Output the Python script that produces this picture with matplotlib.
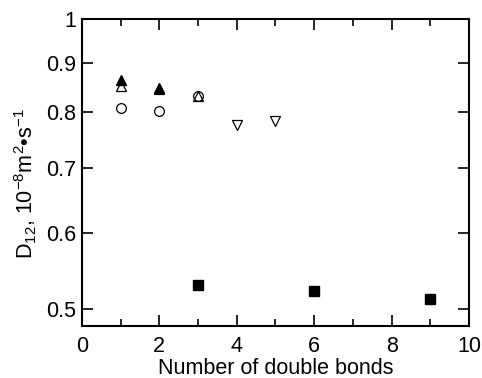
import matplotlib
matplotlib.use("Agg")
from matplotlib import pyplot as plt
from matplotlib.ticker import FixedLocator, FixedFormatter, MultipleLocator, NullLocator

plt.rcParams['font.family'] = ['Liberation Sans', 'DejaVu Sans']
plt.rcParams['mathtext.fontset'] = 'custom'
plt.rcParams['mathtext.rm'] = 'Liberation Sans'
plt.rcParams['mathtext.it'] = 'Liberation Sans'

# data
tri_filled_x = [1, 2]
tri_filled_y = [0.864, 0.848]
tri_open_x = [1, 2, 3]
tri_open_y = [0.853, 0.845, 0.832]
circ_x = [1, 2, 3]
circ_y = [0.808, 0.802, 0.831]
tri_down_x = [4, 5]
tri_down_y = [0.776, 0.784]
sq_x = [3, 6, 9]
sq_y = [0.529, 0.522, 0.512]

yticks = [0.5, 0.6, 0.7, 0.8, 0.9, 1.0]
ytick_labels = ["0.5", "0.6", "0.7", "0.8", "0.9", "1"]

fig = plt.figure(figsize=(4.82, 3.78), dpi=100)
ax = fig.add_axes([0.170, 0.1376, 0.803, 0.812])

ax.plot(tri_filled_x, tri_filled_y, '^', ms=6.5, mfc='black', mec='black', mew=1)
ax.plot(tri_open_x, tri_open_y, '^', ms=7, mfc='none', mec='black', mew=0.9)
ax.plot(circ_x, circ_y, 'o', ms=7, mfc='none', mec='black', mew=0.9)
ax.plot(tri_down_x, tri_down_y, 'v', ms=7, mfc='none', mec='black', mew=0.9)
ax.plot(sq_x, sq_y, 's', ms=6.5, mfc='black', mec='black')

ax.set_yscale('log')
ax.set_ylim(0.48, 1.0)
ax.set_xlim(0, 10)
ax.yaxis.set_major_locator(FixedLocator(yticks))
ax.yaxis.set_major_formatter(FixedFormatter(ytick_labels))
ax.yaxis.set_minor_locator(NullLocator())
ax.xaxis.set_major_locator(MultipleLocator(2))
ax.xaxis.set_minor_locator(MultipleLocator(1))

ax.tick_params(which='both', direction='in', top=True, right=True, width=1.2)
ax.tick_params(which='major', length=8, labelsize=15.5)
ax.tick_params(axis='y', which='major', pad=4)
ax.tick_params(axis='x', which='major', pad=7)
ax.tick_params(which='minor', length=5)
for s in ax.spines.values():
    s.set_linewidth(1.5)

ax.set_xlabel("Number of double bonds", fontsize=15.5, labelpad=1)
ax.set_ylabel("D$_{12}$, 10$^{\\mathrm{-}8}$m$^{2}$\u2022s$^{\\mathrm{-}1}$", fontsize=15.5)
ax.yaxis.set_label_coords(-0.112, 0.465)

fig.savefig("out.png", dpi=100)
